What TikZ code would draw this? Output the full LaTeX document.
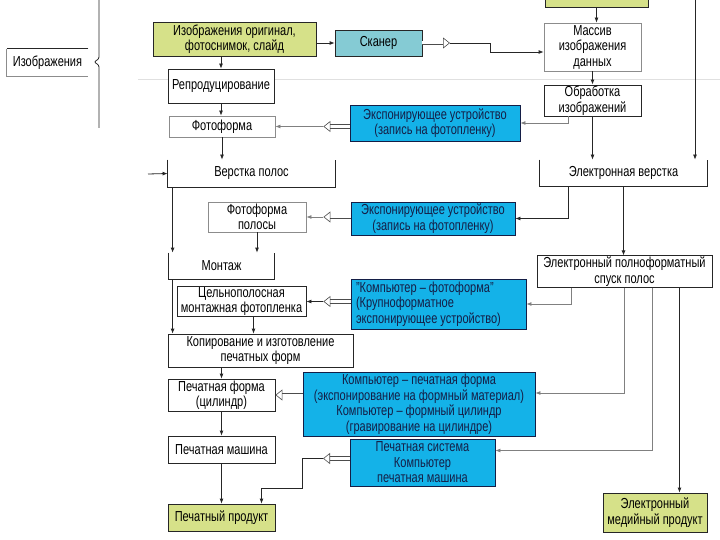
\documentclass[tikz,border=0pt]{standalone}
\usepackage{fontspec}
\setmainfont{Liberation Sans}[FakeStretch=0.76]
\usetikzlibrary{arrows.meta,calc}

\definecolor{prodgreen}{RGB}{214,225,137}
\definecolor{scanteal}{RGB}{133,203,212}
\definecolor{devcyan}{RGB}{20,178,232}
\definecolor{devtext}{RGB}{20,30,70}

\begin{document}
\begin{tikzpicture}[x=1pt, y=-1pt, >={Latex[length=5pt,width=4pt]},
  box/.style={draw=black!85, line width=0.8pt, fill=white, align=center, inner sep=1pt, font=\fontsize{14.5}{15.5}\selectfont},
  greybox/.style={box, draw=black!45},
  openbox/.style={box, draw=none},
  greenbox/.style={box, fill=prodgreen},
  cyanbox/.style={box, fill=devcyan, text=devtext, draw=devtext},
  line/.style={draw=black!85, line width=0.8pt},
  greyline/.style={draw=black!50, line width=0.8pt},
  hollow/.style={draw=black!70, line width=0.6pt, double=white, double distance=3pt, -{Triangle[open, length=7pt, width=11pt]}}]

\useasboundingbox (0,0) rectangle (720,540);

% faint header rule
\draw[black!12, line width=1pt] (138,80) -- (720,80);

% left label and brace
\node[openbox, minimum width=81, minimum height=27] (izo) at (47.5,62.5) {Изображения};
\draw[black!85, line width=0.8pt] (izo.north east) -- (izo.north west);
\draw[black!45, line width=0.8pt] (izo.north west) -- (izo.south west) -- (izo.south east);
\draw[line] (99,-2) -- (99,57) .. controls (99,60) and (95,60.5) .. (95,62) .. controls (95,63.5) and (99,64) .. (99,67) -- (99,128);

% top row
\node[greenbox, minimum width=163, minimum height=34] (orig) at (234.5,39) {Изображения оригинал,\\фотоснимок, слайд};
\node[box, fill=scanteal, minimum width=87, minimum height=26] (scan) at (378.5,43) {Сканер};
\node[greenbox, minimum width=103, minimum height=34] (top) at (596.5,-10) {};
\node[greybox, minimum width=97, minimum height=48] (massiv) at (592.5,47) {Массив\\изображения\\данных};
\node[box, minimum width=97, minimum height=31] (obr) at (592.5,100.5) {Обработка\\изображений};

% left column
\node[box, minimum width=106, minimum height=34] (repro) at (221,86) {Репродуцирование};
\node[greybox, minimum width=106, minimum height=21] (foto) at (222,126.5) {Фотоформа};
\node[openbox, minimum width=167, minimum height=27] (verstka) at (251.5,173.5) {Верстка полос};
\node[greybox, minimum width=98, minimum height=30] (fotopol) at (257,217) {Фотоформа\\полосы};
\node[openbox, minimum width=105, minimum height=26] (montazh) at (221.5,266) {Монтаж};
\node[box, minimum width=129, minimum height=29] (celno) at (241.5,301.5) {Цельнополосная\\монтажная фотопленка};
\node[box, minimum width=185, minimum height=33] (kopir) at (260.5,350.5) {Копирование и изготовление\\печатных форм};
\node[box, minimum width=107, minimum height=32] (pform) at (221.5,395) {Печатная форма\\(цилиндр)};
\node[box, minimum width=107, minimum height=27] (pmash) at (221.5,449.5) {Печатная машина};
\node[greenbox, minimum width=107, minimum height=27] (pprod) at (221.5,517.5) {Печатный продукт};

% devices
\node[cyanbox, minimum width=170, minimum height=36] (expo1) at (435,123) {Экспонирующее устройство\\(запись на фотопленку)};
\node[cyanbox, minimum width=164, minimum height=33] (expo2) at (433,218.5) {Экспонирующее устройство\\(запись на фотопленку)};
\node[cyanbox, align=flush left, text width=165, minimum width=175, minimum height=50] (kf) at (438.5,304) {"Компьютер – фотоформа"\\(Крупноформатное\\экспонирующее устройство)};
\node[cyanbox, minimum width=232, minimum height=64] (kpf) at (419,404) {Компьютер – печатная форма\\(экспонирование на формный материал)\\Компьютер – формный цилиндр\\(гравирование на цилиндре)};
\node[cyanbox, minimum width=145, minimum height=47] (psys) at (422.5,462.5) {Печатная система\\Компьютер\\печатная машина};

% right column
\node[openbox, minimum width=167, minimum height=26] (elverstka) at (623.5,173) {Электронная верстка};
\node[box, minimum width=175, minimum height=31] (spusk) at (624.5,271.5) {Электронный полноформатный\\спуск полос};
\node[greenbox, minimum width=104, minimum height=39] (emedia) at (655,512.5) {Электронный\\медийный продукт};

% boxes without a top edge
\draw[line] (verstka.north west) -- (verstka.south west) -- (verstka.south east) -- (verstka.north east);
\draw[line] (montazh.north west) -- (montazh.south west) -- (montazh.south east) -- (montazh.north east);
\draw[line] (elverstka.north west) -- (elverstka.south west) -- (elverstka.south east) -- (elverstka.north east);

\coordinate (s1) at (450,43);
\coordinate (s2) at (490,52);
\coordinate (r0) at (695,-2);
\coordinate (v0) at (148,174);
\coordinate (h1) at ($(foto.east) + (48,0)$);
\coordinate (h2) at ($(fotopol.east) + (17,0)$);
\coordinate (h3) at ($(celno.east) + (17,0)$);
\coordinate (h5) at (323,458.5);
\coordinate (b5) at (302,488);

% scanner branch
\draw[line,->] (orig.east |- scan) -- (scan.west);
\draw[hollow] (scan.east) -- (s1);
\draw[line,->] (s1) -- (s1 -| s2) -- (s2) -- (s2 -| massiv.west);
\draw[line,->] (top.south) -- (top.south |- massiv.north);
\draw[line,->] (massiv.south) -- (obr.north);
\draw[line,->] (obr.south) -- (obr.south |- elverstka.north);
\draw[greyline,->] ([xshift=-24pt]obr.south) |- (expo1.east);
\draw[line,->] (r0) -- (r0 |- elverstka.north);

% left column flow
\draw[line,->] (orig.south -| repro) -- (repro.north);
\draw[line,->] (repro.south) -- (repro.south |- foto.north);
\draw[line,->] (foto.south) -- (foto.south |- verstka.north);
\draw[line,->] (v0) -- (verstka.west);
\draw[line,->] ([xshift=5pt]verstka.south west) -- ([xshift=5pt]verstka.south west |- montazh.north);
\draw[line,->] (fotopol.south) -- (fotopol.south |- montazh.north);
\draw[line,->] ([xshift=4pt]montazh.south west) -- ([xshift=4pt]montazh.south west |- kopir.north);
\draw[line,->] ([xshift=12pt]celno.south) -- ([xshift=12pt]celno.south |- kopir.north);
\draw[line,->] (kopir.south -| pform) -- (pform.north);
\draw[line,->] (pform.south) -- (pmash.north);
\draw[line,->] (pmash.south) -- (pprod.north);

% device inputs
\draw[hollow] (expo1.west |- foto.east) -- (h1);
\draw[greyline,->] (h1) -- (foto.east);
\draw[hollow] (expo2.west |- fotopol.east) -- (h2);
\draw[greyline,->] (h2) -- (fotopol.east);
\draw[hollow] (kf.west |- celno.east) -- (h3);
\draw[line,->] (h3) -- (celno.east);
\draw[hollow] (kpf.west |- pform.east) -- (pform.east);
\draw[hollow] ([yshift=4pt]psys.west) -- (h5);
\draw[line,->] (h5) -| (b5) -| ([xshift=40pt]pprod.north);

% electronic branch
\draw[line,->] ([xshift=-55pt]elverstka.south) |- (expo2.east);
\draw[line,->] (elverstka.south) -- (elverstka.south |- spusk.north);
\draw[greyline,->] ([xshift=-53pt]spusk.south) |- (kf.east);
\draw[greyline,->] (spusk.south) |- ([yshift=11pt]kpf.east);
\draw[greyline,->] ([xshift=28pt]spusk.south) |- ([yshift=12pt]psys.east);
\draw[line,->] ([xshift=55pt]spusk.south) -- ([xshift=55pt]spusk.south |- emedia.north);

\end{tikzpicture}
\end{document}
